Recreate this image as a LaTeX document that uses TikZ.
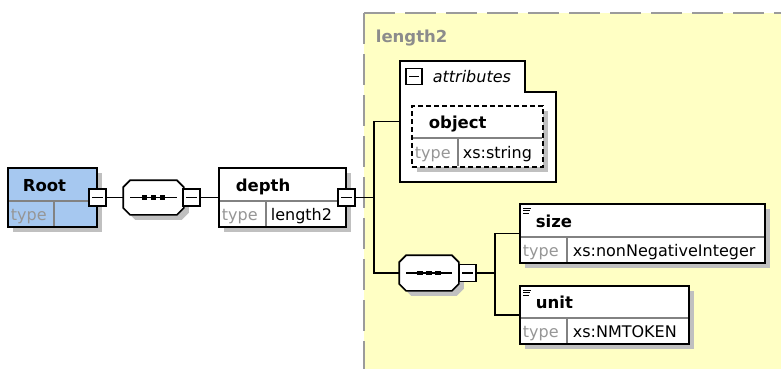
\documentclass[tikz,border=0pt]{standalone}
\usepackage{fontspec}
\setmainfont{DejaVu Sans}
\usetikzlibrary{calc}
\definecolor{ylw}{RGB}{255,255,196}
\definecolor{rootblue}{RGB}{166,200,240}
\definecolor{shd}{RGB}{192,192,192}
\definecolor{typegray}{RGB}{150,150,150}
\definecolor{dashgray}{RGB}{155,155,155}
\definecolor{divgray}{RGB}{130,130,130}
\definecolor{titlegray}{RGB}{140,140,140}
\newcommand\octpath[1]{([xshift=7pt]#1.north west) -- ([xshift=-7pt]#1.north east) -- ([yshift=-7pt]#1.north east) -- ([yshift=7pt]#1.south east) -- ([xshift=-7pt]#1.south east) -- ([xshift=7pt]#1.south west) -- ([yshift=7pt]#1.south west) -- ([yshift=-7pt]#1.north west) -- cycle}
\begin{document}
\begin{tikzpicture}[x=1pt,y=-1pt, line width=1.7pt,
 shad/.style={preaction={fill=shd, transform canvas={shift={(5pt,-5pt)}}}},
 elbox/.style={draw=black, fill=white, inner sep=0, shad, line width=1.7pt},
 minusbox/.style={draw=black, fill=white, minimum size=17pt, inner sep=0, line width=1.5pt,
   path picture={\draw[line width=1.5pt] ([xshift=3pt]path picture bounding box.west) -- ([xshift=-3pt]path picture bounding box.east);}},
 octo/.style={draw=black, fill=white, line width=1.7pt},
 octshadow/.style={fill=shd, transform canvas={shift={(5pt,-5pt)}}},
 namelbl/.style={anchor=base west, inner sep=0, font=\fontsize{16.5}{18}\selectfont\bfseries},
 typelbl/.style={anchor=base west, inner sep=0, font=\fontsize{16}{18}\selectfont, text=typegray},
 typeval/.style={anchor=base west, inner sep=0, font=\fontsize{16}{18}\selectfont},
 divider/.style={draw=divgray, line width=1.1pt},
 conn/.style={draw=black, line width=1.7pt},
 seqline/.style={draw=black, line width=1.4pt},
 icon/.style={draw=black, line width=1pt},
]
\useasboundingbox (0,0) rectangle (781,368);
% complex type region
\fill[ylw] (364,13) rectangle (790,380);
\draw[dashgray, line width=2pt, dash pattern=on 31pt off 10pt] (364,13) -- (790,13);
\draw[dashgray, line width=2pt, dash pattern=on 31pt off 10pt] (364,13) -- (364,380);
\node[anchor=base west, inner sep=0, font=\fontsize{16.5}{18}\selectfont\bfseries, text=titlegray] (title) at (375,42) {length2};

% Root
\node[elbox, fill=rootblue, minimum width=89pt, minimum height=59pt] (root) at (52.5,197.5) {};
\draw[divider] (8.8,201) -- (96.2,201);
\draw[divider] (54,201) -- (54,226.2);
\node[namelbl] (rootname) at (22,191) {Root};
\node[typelbl] (roottype) at (10,220) {type};
\node[minusbox] (rootm) at (97.5,197.5) {};

% sequence 1
\node[inner sep=0, minimum width=59pt, minimum height=33pt] (seq1) at (153.5,197.5) {};
\fill[octshadow] \octpath{seq1};
\draw[octo] \octpath{seq1};
\draw[seqline] ([xshift=7pt]seq1.west) -- ([xshift=-7pt]seq1.east);
\foreach \dx in {-9,0,9} \fill ([xshift=\dx pt]seq1.center) +(-2.6,-2.4) rectangle +(2.6,2.4);
\node[minusbox] (seq1m) at (191.5,197.5) {};
\draw[conn] (rootm.east) -- (seq1.west);

% depth
\node[elbox, minimum width=127pt, minimum height=59pt] (depth) at (282.5,197.5) {};
\draw[divider] (219.8,201) -- (345.2,201);
\draw[divider] (266,201) -- (266,226.2);
\node[namelbl] (depthname) at (235,191) {depth};
\node[typelbl] (depthtype) at (221,220) {type};
\node[typeval] (depthval) at (270,220) {length2};
\node[minusbox] (depthm) at (346.5,197.5) {};
\draw[conn] (seq1m.east) -- (depth.west);

% attributes
\node[inner sep=0, minimum width=156pt, minimum height=121pt] (attr) at (478,121.5) {};
\draw[fill=white, line width=1.7pt] (400,61) -- (525,61) -- (525,92) -- (556,92) -- (556,182) -- (400,182) -- cycle;
\node[minusbox, minimum size=16pt] (attrm) at (414,76.5) {};
\node[anchor=base west, inner sep=0, font=\fontsize{16}{18}\selectfont\itshape] (attrlbl) at (432,82) {attributes};

% object
\node[elbox, dash pattern=on 5pt off 3pt, minimum width=131pt, minimum height=61pt] (obj) at (477.5,136.5) {};
\draw[divider] (412.8,138) -- (542.2,138);
\draw[divider] (458,138) -- (458,166.2);
\node[namelbl] (objname) at (428,128) {object};
\node[typelbl] (objtype) at (414,158) {type};
\node[typeval] (objval) at (462,158) {xs:string};

% sequence 2
\node[inner sep=0, minimum width=58pt, minimum height=34pt] (seq2) at (429,273) {};
\fill[octshadow] \octpath{seq2};
\draw[octo] \octpath{seq2};
\draw[seqline] ([xshift=7pt]seq2.west) -- ([xshift=-7pt]seq2.east);
\foreach \dx in {-9,0,9} \fill ([xshift=\dx pt]seq2.center) +(-2.6,-2.4) rectangle +(2.6,2.4);
\node[minusbox] (seq2m) at (467.5,273) {};

% main junction
\coordinate (j1) at (374,197.5);
\draw[conn] (depthm.east) -- (j1);
\draw[conn] (attr.west) -| (j1) |- (seq2.west);

% size
\node[elbox, minimum width=245pt, minimum height=59pt] (size) at (642.5,233.5) {};
\draw[divider] (520.8,237) -- (764.2,237);
\draw[divider] (567,237) -- (567,262.2);
\draw[icon] (523,208) -- (531,208) (523,210.5) -- (530,210.5) (523,213) -- (529,213);
\node[namelbl] (sizename) at (535,227) {size};
\node[typelbl] (sizetype) at (522,256) {type};
\node[typeval] (sizeval) at (572,256) {xs:nonNegativeInteger};

% unit
\node[elbox, minimum width=169pt, minimum height=58pt] (unit) at (604.5,315) {};
\draw[divider] (520.8,318) -- (688.2,318);
\draw[divider] (567,318) -- (567,343.2);
\draw[icon] (523,290) -- (531,290) (523,292.5) -- (530,292.5) (523,295) -- (529,295);
\node[namelbl] (unitname) at (535,308) {unit};
\node[typelbl] (unittype) at (522,337) {type};
\node[typeval] (unitval) at (572,337) {xs:NMTOKEN};

% sequence 2 junction
\coordinate (j2) at (495,273);
\draw[conn] (seq2m.east) -- (j2);
\draw[conn] (size.west) -| (j2) |- (unit.west);
\end{tikzpicture}
\end{document}
